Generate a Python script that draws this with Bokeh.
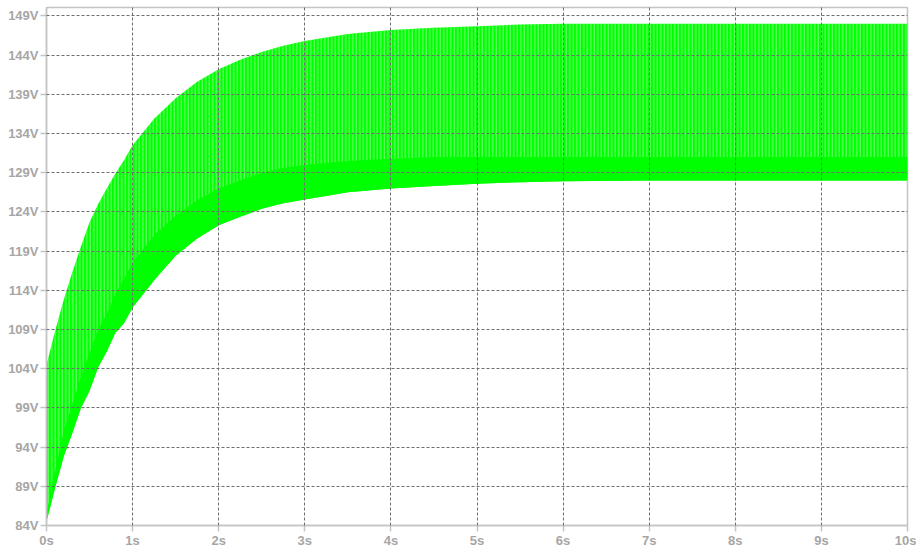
from bokeh.plotting import figure
from bokeh.models import Range1d, FixedTicker, CustomJSTickFormatter
from bokeh.embed import file_html
from bokeh.resources import INLINE

# time axis samples (s)
t = [0, 0.1, 0.2, 0.3, 0.4, 0.5, 0.6, 0.7, 0.8, 0.9, 1.0, 1.25, 1.5, 1.75,
     2.0, 2.25, 2.5, 2.75, 3.0, 3.5, 4.0, 4.5, 5.0, 5.5, 6, 7, 8, 9, 10]
# upper envelope of the ripple (V)
upper = [104.5, 108.8, 112.8, 116.3, 119.6, 122.7, 125.0, 127.0, 128.9, 130.6,
         132.5, 135.9, 138.5, 140.6, 142.2, 143.4, 144.4, 145.2, 145.8, 146.7,
         147.2, 147.5, 147.7, 147.9, 148.0, 148.0, 148.0, 148.0, 148.0]
# lower envelope of the ripple (V)
lower = [84.5, 88.8, 92.8, 95.8, 99.0, 101.2, 104.2, 106.2, 108.6, 109.8,
         111.8, 115.3, 118.4, 120.6, 122.3, 123.4, 124.4, 125.1, 125.6, 126.5,
         127.0, 127.3, 127.6, 127.8, 127.9, 128.0, 128.0, 128.0, 128.0]
# top of the dense (solid) part of the trace (V)
dense_top = [85.5, 91.0, 96.0, 99.5, 103.0, 106.0, 109.0, 111.0, 113.5, 115.5,
             117.5, 121.0, 123.5, 125.5, 127.0, 128.0, 129.0, 129.6, 130.0, 130.5,
             130.8, 131.0, 131.0, 131.0, 131.0, 131.0, 131.0, 131.0, 131.0]

x_ticks = [0, 1, 2, 3, 4, 5, 6, 7, 8, 9, 10]
y_ticks = [84, 89, 94, 99, 104, 109, 114, 119, 124, 129, 134, 139, 144, 149]

GREEN = "#00ff00"
LABEL = "#a6a6a6"
AXIS = "#c4c4c4"

p = figure(width=916, height=550, output_backend="svg", toolbar_location=None,
           x_range=Range1d(0, 10), y_range=Range1d(84, 150.08),
           min_border_left=46, min_border_right=9, min_border_top=7,
           min_border_bottom=10)

p.background_fill_color = "white"
p.border_fill_color = "white"
p.outline_line_color = AXIS
p.outline_line_width = 1.5

# ripple band
p.varea(x=t, y1=lower, y2=upper, fill_color=GREEN,
        hatch_pattern="vertical_line", hatch_color="white",
        hatch_alpha=0.5, hatch_scale=3.5, hatch_weight=1)
# dense lower core of the trace
p.varea(x=t, y1=lower, y2=dense_top, fill_color=GREEN)

for ax in (p.xaxis[0], p.yaxis[0]):
    ax.axis_line_color = AXIS
    ax.axis_line_width = 1.5
    ax.major_tick_line_color = AXIS
    ax.major_tick_line_width = 1.5
    ax.major_tick_out = 6
    ax.major_tick_in = 0
    ax.minor_tick_line_color = None
    ax.major_label_text_color = LABEL
    ax.major_label_text_font = "Liberation Sans"
    ax.major_label_text_font_style = "bold"
    ax.major_label_text_font_size = "13px"

p.xaxis.ticker = FixedTicker(ticks=x_ticks)
p.yaxis.ticker = FixedTicker(ticks=y_ticks)
p.xaxis.formatter = CustomJSTickFormatter(code="return tick + 's';")
p.yaxis.formatter = CustomJSTickFormatter(code="return tick + 'V';")
p.xaxis.major_label_standoff = 1
p.yaxis.major_label_standoff = 2

for g in (p.xgrid[0], p.ygrid[0]):
    g.grid_line_color = "#6e6e6e"
    g.grid_line_dash = "3 2"
    g.grid_line_width = 1
    g.level = "overlay"

open("out.html", "w").write(file_html(p, INLINE))
